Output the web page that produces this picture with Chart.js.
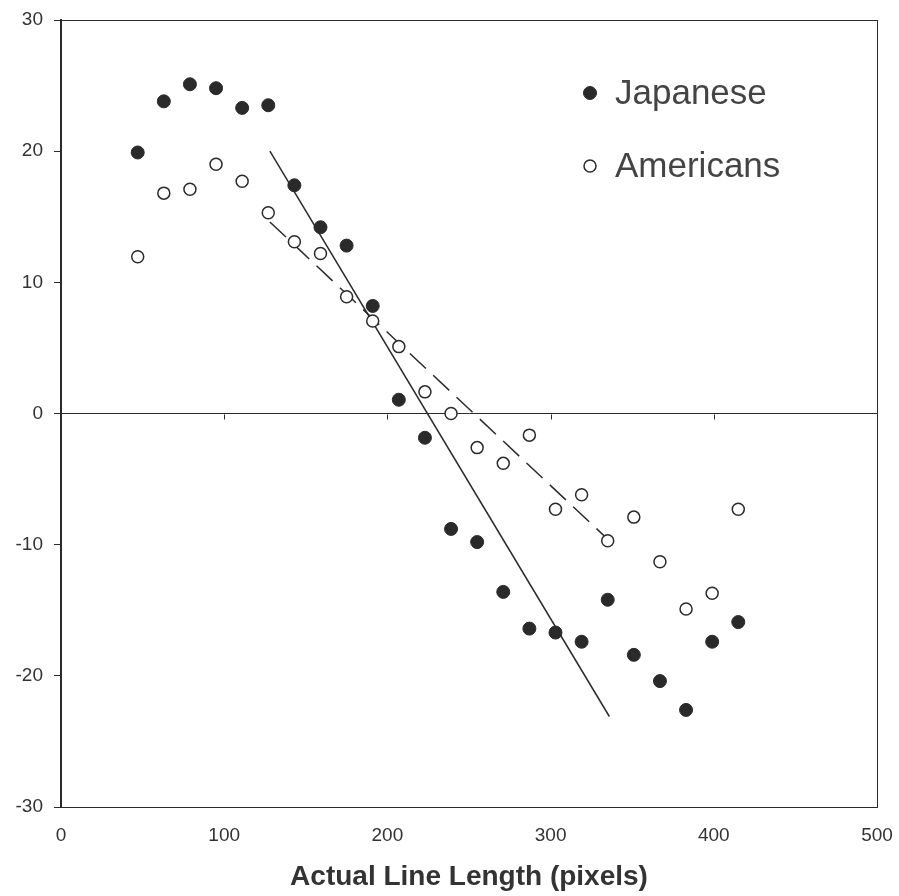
<!DOCTYPE html>
<html>
<head>
<meta charset="utf-8">
<script src="https://cdn.jsdelivr.net/npm/chart.js@4"></script>
<style>
html, body { margin: 0; padding: 0; background: #fff; }
#wrap { width: 899px; height: 896px; }
</style>
</head>
<body>
<div id="wrap"><canvas id="chart" width="899" height="896"></canvas></div>
<script>
// Actual line length (pixels) for each stimulus
const lengths = [47, 63, 79, 95, 111, 127, 143, 159, 175, 191, 207, 223,
  239, 255, 271, 287, 303, 319, 335, 351, 367, 383, 399, 415];
const japanese = [19.9, 23.8, 25.1, 24.8, 23.3, 23.5, 17.4, 14.2, 12.8, 8.2, 1.05, -1.85,
  -8.8, -9.8, -13.6, -16.4, -16.7, -17.4, -14.2, -18.4, -20.4, -22.6, -17.4, -15.9];
const americans = [11.95, 16.8, 17.1, 19.0, 17.7, 15.3, 13.1, 12.2, 8.9, 7.05, 5.1, 1.65,
  0.0, -2.6, -3.8, -1.65, -7.3, -6.2, -9.7, -7.9, -11.3, -14.9, -13.7, -7.3];
// fitted trend lines (end points)
const fitX = [128, 336];
const japaneseFit = [20.0, -23.1];
const americansFit = [14.6, -9.7];
const xTicks = [0, 100, 200, 300, 400, 500];
const yTicks = [-30, -20, -10, 0, 10, 20, 30];

const toPts = (xs, ys) => xs.map((x, i) => ({ x, y: ys[i] }));
const ink = "#2a2a2a";
const font = "'Liberation Sans', Arial, sans-serif";

const frame = {
  id: "frame",
  afterDraw(chart) {
    const { ctx, chartArea: a, scales: { x, y } } = chart;
    ctx.save();
    ctx.strokeStyle = ink;
    ctx.lineWidth = 1;
    ctx.strokeRect(a.left + 0.5, a.top + 0.5, a.right - a.left, a.bottom - a.top);
    // small ticks hanging from the zero line
    const y0 = Math.round(y.getPixelForValue(0)) + 0.5;
    xTicks.forEach((v) => {
      const px = Math.round(x.getPixelForValue(v)) + 0.5;
      ctx.beginPath();
      ctx.moveTo(px, y0);
      ctx.lineTo(px, y0 + 5);
      ctx.stroke();
    });
    // legend inside the plot
    const items = chart.data.datasets.filter((d) => d.inLegend);
    items.forEach((d, i) => {
      const cy = 93 + i * 73;
      ctx.beginPath();
      ctx.arc(590, cy, d.legendRadius, 0, Math.PI * 2);
      ctx.fillStyle = d.backgroundColor;
      ctx.fill();
      ctx.lineWidth = d.borderWidth;
      ctx.strokeStyle = d.borderColor;
      ctx.stroke();
      ctx.fillStyle = "#444";
      ctx.font = "35px " + font;
      ctx.textBaseline = "middle";
      ctx.fillText(d.label, 615, cy + 1);
    });
    ctx.restore();
  },
};

new Chart(document.getElementById("chart"), {
  type: "scatter",
  data: {
    datasets: [
      {
        label: "Japanese",
        data: toPts(lengths, japanese),
        backgroundColor: ink,
        borderColor: ink,
        borderWidth: 1,
        pointRadius: 6.5,
        inLegend: true,
        legendRadius: 6.5,
      },
      {
        label: "Americans",
        data: toPts(lengths, americans),
        backgroundColor: "#fff",
        borderColor: ink,
        borderWidth: 1.5,
        pointRadius: 6,
        inLegend: true,
        legendRadius: 6,
      },
      {
        label: "Japanese fit",
        data: toPts(fitX, japaneseFit),
        showLine: true,
        borderColor: ink,
        borderWidth: 1.5,
        pointRadius: 0,
      },
      {
        label: "Americans fit",
        data: toPts(fitX, americansFit),
        showLine: true,
        borderColor: ink,
        borderWidth: 1.5,
        borderDash: [22, 10],
        pointRadius: 0,
      },
    ],
  },
  options: {
    responsive: false,
    animation: false,
    devicePixelRatio: 1,
    layout: { padding: { top: 20, right: 22, left: 0, bottom: 0 } },
    plugins: { legend: { display: false }, tooltip: { enabled: false } },
    scales: {
      x: {
        type: "linear",
        min: 0,
        max: 500,
        afterBuildTicks: (s) => { s.ticks = xTicks.map((v) => ({ value: v })); },
        afterFit: (s) => { s.height = 89; s.paddingLeft = 0; s.paddingRight = 0; },
        grid: { drawOnChartArea: false, drawTicks: false },
        border: { color: ink, width: 1 },
        ticks: { color: "#333", padding: 17, font: { family: font, size: 19 } },
        title: {
          display: true,
          text: "Actual Line Length (pixels)",
          color: "#333",
          font: { family: font, size: 28, weight: "bold" },
          padding: { top: 0, bottom: 2 },
        },
      },
      y: {
        type: "linear",
        min: -30,
        max: 30,
        afterBuildTicks: (s) => { s.ticks = yTicks.map((v) => ({ value: v })); },
        afterFit: (s) => { s.width = 61; s.paddingTop = 0; s.paddingBottom = 0; },
        grid: {
          color: (c) => (c.tick && c.tick.value === 0 ? ink : "rgba(0,0,0,0)"),
          tickColor: ink,
          tickLength: 7,
        },
        border: { color: ink, width: 2 },
        ticks: { color: "#333", padding: 11, font: { family: font, size: 19 } },
      },
    },
  },
  plugins: [frame],
});
</script>
</body>
</html>
